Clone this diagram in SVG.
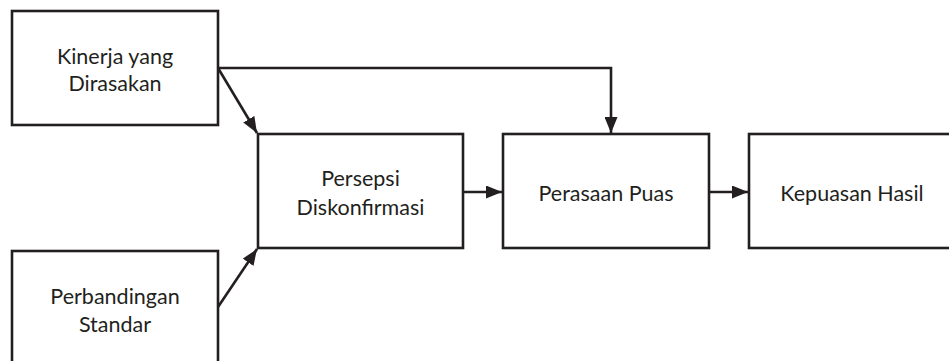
<svg xmlns="http://www.w3.org/2000/svg" width="949" height="361" viewBox="0 0 949 361">
  <style>
    .box { fill: #ffffff; stroke: #231f20; stroke-width: 2.6; }
    .lbl { font-family: Lato, "Liberation Sans", sans-serif; font-size: 21.5px; fill: #231f20; text-anchor: middle; }
    .edge { fill: none; stroke: #231f20; stroke-width: 2.6; }
  </style>
  <defs>
    <marker id="arrow" viewBox="0 0 16 13" refX="16" refY="6.5" markerWidth="16" markerHeight="13" markerUnits="userSpaceOnUse" orient="auto">
      <path d="M0,0 L16,6.5 L0,13 z" fill="#231f20"/>
    </marker>
  </defs>
  <rect width="949" height="361" fill="#ffffff"/>

  <g id="connectors">
    <path class="edge" d="M218,68 H611 V133" marker-end="url(#arrow)"/>
    <path class="edge" d="M218,68 L257,133" marker-end="url(#arrow)"/>
    <path class="edge" d="M218,307 L257,249" marker-end="url(#arrow)"/>
    <path class="edge" d="M463,192 H502" marker-end="url(#arrow)"/>
    <path class="edge" d="M709,192 H748" marker-end="url(#arrow)"/>
  </g>

  <g id="kinerja">
    <rect class="box" x="12" y="11" width="206" height="114"/>
    <text class="lbl" x="115" y="64">Kinerja yang</text>
    <text class="lbl" x="115" y="91">Dirasakan</text>
  </g>
  <g id="perbandingan">
    <rect class="box" x="12" y="251" width="206" height="114"/>
    <text class="lbl" x="115" y="304">Perbandingan</text>
    <text class="lbl" x="115" y="332">Standar</text>
  </g>
  <g id="persepsi">
    <rect class="box" x="258" y="134" width="205" height="114"/>
    <text class="lbl" x="360.5" y="186">Persepsi</text>
    <text class="lbl" x="360.5" y="215">Diskonfirmasi</text>
  </g>
  <g id="perasaan">
    <rect class="box" x="503" y="134" width="206" height="114"/>
    <text class="lbl" x="606" y="201">Perasaan Puas</text>
  </g>
  <g id="kepuasan">
    <rect class="box" x="749" y="134" width="206" height="114"/>
    <text class="lbl" x="852" y="201">Kepuasan Hasil</text>
  </g>
</svg>
